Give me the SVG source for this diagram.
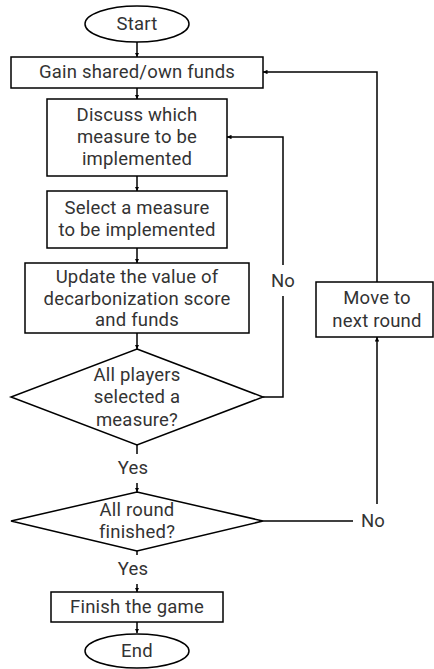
<svg xmlns="http://www.w3.org/2000/svg" width="434" height="669" viewBox="0 0 434 669">
<defs>
<marker id="ah" viewBox="0 0 10 10" refX="10" refY="5" markerWidth="4.5" markerHeight="4.5" markerUnits="userSpaceOnUse" orient="auto">
<path d="M0,0 L10,5 L0,10 z" fill="#000"/>
</marker>
<style>
.s{fill:#fff;stroke:#000;stroke-width:1.5}
.c{fill:none;stroke:#000;stroke-width:1.5}
.a{marker-end:url(#ah)}
text{font-family:Roboto,"Liberation Sans",sans-serif;font-size:18.5px;letter-spacing:0.2px;fill:#333;text-anchor:middle;dominant-baseline:central}
</style>
</defs>
<rect width="434" height="669" fill="#fff"/>
<g id="connectors">
<line class="c a" x1="137" y1="42" x2="137" y2="57"/>
<line class="c a" x1="137" y1="88" x2="137" y2="99"/>
<line class="c a" x1="137" y1="176" x2="137" y2="191"/>
<line class="c a" x1="137" y1="248" x2="137" y2="263"/>
<line class="c a" x1="137" y1="333" x2="137" y2="349"/>
<polyline class="c" points="263,397 283,397 283,296"/>
<polyline class="c a" points="283,265 283,137 227,137"/>
<line class="c" x1="137" y1="445" x2="137" y2="454"/>
<line class="c a" x1="137" y1="483" x2="137" y2="492"/>
<line class="c" x1="263" y1="521" x2="353" y2="521"/>
<line class="c a" x1="377" y1="504" x2="377" y2="337"/>
<polyline class="c a" points="377,282 377,72 263,72"/>
<line class="c" x1="137" y1="551" x2="137" y2="555"/>
<line class="c a" x1="137" y1="584" x2="137" y2="592"/>
<line class="c a" x1="137" y1="622" x2="137" y2="633"/>
<text x="283" y="281">No</text>
<text x="133" y="468">Yes</text>
<text x="373" y="521">No</text>
<text x="133" y="569">Yes</text>
</g>
<g id="start"><ellipse class="s" cx="137" cy="24" rx="52" ry="18"/><text x="137" y="24">Start</text></g>
<g id="gain"><rect class="s" x="11" y="57" width="252" height="31"/><text x="137" y="72">Gain shared/own funds</text></g>
<g id="discuss"><rect class="s" x="47" y="99" width="180" height="77"/><text x="137" y="115">Discuss which</text><text x="137" y="137">measure to be</text><text x="137" y="159">implemented</text></g>
<g id="select"><rect class="s" x="47" y="191" width="180" height="57"/><text x="137" y="208">Select a measure</text><text x="137" y="230">to be implemented</text></g>
<g id="update"><rect class="s" x="25" y="263" width="224" height="70"/><text x="137" y="277">Update the value of</text><text x="137" y="298.5">decarbonization score</text><text x="137" y="320">and funds</text></g>
<g id="allplayers"><polygon class="s" points="137,349 263,397 137,445 11,397"/><text x="137" y="375">All players</text><text x="137" y="397">selected a</text><text x="137" y="419.5">measure?</text></g>
<g id="moveround"><rect class="s" x="316" y="282" width="117" height="55"/><text x="377" y="298">Move to</text><text x="377" y="320.5">next round</text></g>
<g id="allround"><polygon class="s" points="137,492 263,521 137,551 11,521"/><text x="137" y="510">All round</text><text x="137" y="532">finished?</text></g>
<g id="finish"><rect class="s" x="51" y="592" width="172" height="30"/><text x="137" y="607">Finish the game</text></g>
<g id="end"><ellipse class="s" cx="137" cy="651" rx="52" ry="17"/><text x="137" y="651">End</text></g>
</svg>
